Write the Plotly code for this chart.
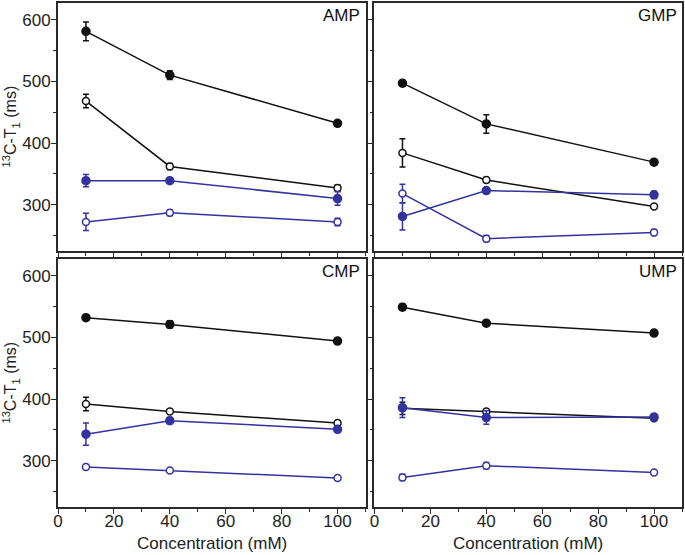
import plotly.graph_objects as go
from plotly.subplots import make_subplots

conc = [10, 40, 100]
panels = ["AMP", "GMP", "CMP", "UMP"]

# values, per panel
black_filled = {
    "AMP": [581, 510, 432], "GMP": [497, 431, 369],
    "CMP": [532, 521, 494], "UMP": [549, 523, 507],
}
black_filled_err = {
    "AMP": [15, 7, 3], "GMP": [3, 15, 3],
    "CMP": [4, 6, 3], "UMP": [5, 3, 4],
}
black_open = {
    "AMP": [468, 362, 327], "GMP": [384, 340, 297],
    "CMP": [392, 380, 361], "UMP": [385, 380, 369],
}
black_open_err = {
    "AMP": [11, 5, 5], "GMP": [23, 4, 3],
    "CMP": [11, 3, 3], "UMP": [10, 3, 3],
}
blue_filled = {
    "AMP": [339, 339, 310], "GMP": [281, 323, 316],
    "CMP": [343, 365, 351], "UMP": [386, 370, 371],
}
blue_filled_err = {
    "AMP": [10, 2, 11], "GMP": [22, 4, 6],
    "CMP": [18, 5, 3], "UMP": [16, 11, 4],
}
blue_open = {
    "AMP": [272, 287, 272], "GMP": [318, 245, 255],
    "CMP": [290, 284, 272], "UMP": [273, 292, 281],
}
blue_open_err = {
    "AMP": [14, 5, 6], "GMP": [15, 5, 5],
    "CMP": [4, 2, 2], "UMP": [5, 5, 2],
}

BLACK = "#111111"
BLUE = "#3333a0"
FONT = "Liberation Sans, Arial, sans-serif"

fig = make_subplots(rows=2, cols=2)

series = [
    (black_filled, black_filled_err, BLACK, True),
    (black_open, black_open_err, BLACK, False),
    (blue_filled, blue_filled_err, BLUE, True),
    (blue_open, blue_open_err, BLUE, False),
]

for idx, name in enumerate(panels):
    r, c = idx // 2 + 1, idx % 2 + 1
    for vals, errs, col, filled in series:
        fig.add_trace(go.Scatter(
            x=conc, y=vals[name],
            mode="lines+markers",
            line=dict(color=col, width=1.5),
            marker=dict(size=8 if filled else 7, symbol="circle",
                        color=col if filled else "white",
                        line=dict(color=col, width=1.5)),
            error_y=dict(type="data", array=errs[name], color=col,
                         thickness=1.5, width=3),
            showlegend=False,
        ), row=r, col=c)

# panel geometry (paper fractions)
xdom = [[0, 0.4928], [0.5072, 1]]
ydom = [[0.508, 1], [0, 0.492]]

axis_style = dict(
    showline=True, linecolor="#2a2a2a", linewidth=1.8, mirror=True,
    ticks="outside", ticklen=5, tickwidth=1.2, tickcolor="#2a2a2a",
    showgrid=False, zeroline=False,
    tickfont=dict(family=FONT, size=17, color="#222222"),
)

for idx, name in enumerate(panels):
    r, c = idx // 2, idx % 2
    n = idx + 1
    xa = "xaxis" if n == 1 else f"xaxis{n}"
    ya = "yaxis" if n == 1 else f"yaxis{n}"
    fig.layout[xa].update(
        domain=xdom[c], range=[0, 110], tickvals=[0, 20, 40, 60, 80, 100],
        showticklabels=(r == 1), ticklabelstandoff=-7,
        minor=dict(dtick=10, tick0=0, ticks="outside", ticklen=3,
                   tickcolor="#2a2a2a", tickwidth=1),
        **axis_style,
    )
    fig.layout[ya].update(
        domain=ydom[r], range=[225, 627], tickvals=[300, 400, 500, 600],
        showticklabels=(c == 0), ticklabelstandoff=-3,
        minor=dict(dtick=50, tick0=250, ticks="outside", ticklen=3,
                   tickcolor="#2a2a2a", tickwidth=1),
        **axis_style,
    )
    fig.add_annotation(
        text=name, xref=f"x{n if n > 1 else ''} domain", yref=f"y{n if n > 1 else ''} domain",
        x=0.99, y=0.995, xanchor="right", yanchor="top", showarrow=False,
        font=dict(family=FONT, size=17, color="#111111"),
    )

# axis titles
for r in range(2):
    yc = sum(ydom[r]) / 2
    fig.add_annotation(
        text="<sup>13</sup>C-T<sub>1</sub> (ms)", xref="paper", yref="paper",
        x=-0.076, y=yc, xanchor="center", yanchor="middle", textangle=-90,
        showarrow=False, font=dict(family=FONT, size=16, color="#222222"),
    )
for c in range(2):
    xc = sum(xdom[c]) / 2
    fig.add_annotation(
        text="Concentration (mM)", xref="paper", yref="paper",
        x=xc, y=-0.05, xanchor="center", yanchor="top",
        showarrow=False, font=dict(family=FONT, size=17, color="#222222"),
    )

fig.update_layout(
    width=685, height=555,
    margin=dict(l=58, r=2, t=1, b=48),
    plot_bgcolor="white", paper_bgcolor="white",
)

fig.write_html("out.html", config={"displayModeBar": False},
               post_script="document.body.style.margin='0';")
